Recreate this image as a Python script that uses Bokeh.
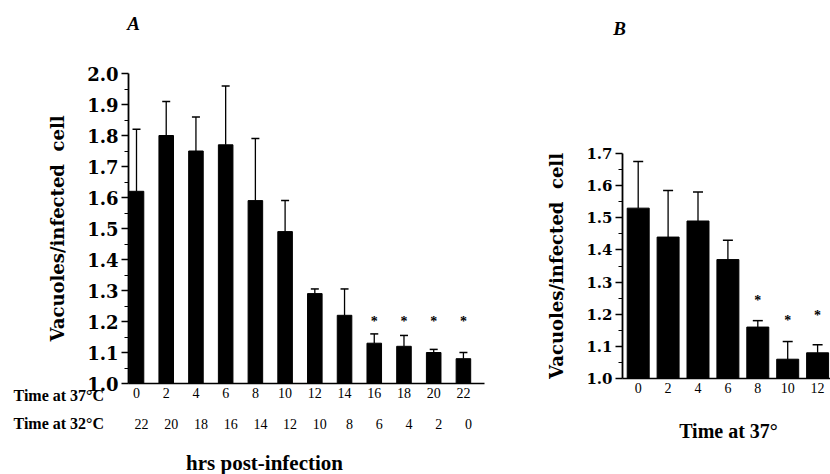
from bokeh.plotting import figure
from bokeh.models import (ColumnDataSource, Whisker, TeeHead, Range1d, FixedTicker,
                          NumeralTickFormatter, Label, LinearAxis)
from bokeh.core.properties import value
from bokeh.embed import file_html
from bokeh.resources import INLINE

# ---------------- data ----------------
# Panel A
hours_a = [0, 2, 4, 6, 8, 10, 12, 14, 16, 18, 20, 22]
time32_a = ["22", "20", "18", "16", "14", "12", "10", "8", "6", "4", "2", "0"]
vac_a = [1.62, 1.80, 1.75, 1.77, 1.59, 1.49, 1.29, 1.22, 1.13, 1.12, 1.10, 1.08]
err_top_a = [1.82, 1.91, 1.86, 1.96, 1.79, 1.59, 1.305, 1.305, 1.16, 1.155, 1.11, 1.10]
star_hours_a = [16, 18, 20, 22]
star_y_a = [1.20, 1.20, 1.20, 1.20]

# Panel B
hours_b = [0, 2, 4, 6, 8, 10, 12]
vac_b = [1.53, 1.44, 1.49, 1.37, 1.16, 1.06, 1.08]
err_top_b = [1.675, 1.585, 1.58, 1.43, 1.18, 1.115, 1.105]
star_hours_b = [8, 10, 12]
star_y_b = [1.243, 1.18, 1.196]

ticks_a = [round(1.0 + 0.1 * i, 2) for i in range(11)]
ticks_b = [round(1.0 + 0.1 * i, 2) for i in range(8)]

SERIF_WIDE = "DejaVu Serif"
TIMES = "Liberation Serif"
W, H = 830, 474

# ---------------- layout geometry (pixels) ----------------
A_AXIS_X, A_X0PX, A_PXU = 128, 136, 14.86
A_Y1PX, A_Y2PX = 383, 73
A_XEND = 484
B_AXIS_X, B_X0PX, B_PXU = 622, 637.7, 14.95
B_Y1PX, B_Y17PX = 378, 153

A_PYU = (A_Y1PX - A_Y2PX) / 1.0
B_PYU = (B_Y1PX - B_Y17PX) / 0.7

def ax(px):
    return (px - A_X0PX) / A_PXU

def ay(py):
    return 1.0 + (A_Y1PX - py) / A_PYU

def bx(px):
    return (px - B_X0PX) / B_PXU

def by(py):
    return 1.0 + (B_Y1PX - py) / B_PYU

p = figure(width=W, height=H, output_backend="svg", toolbar_location=None,
           x_range=Range1d(ax(0), ax(W)), y_range=Range1d(ay(H), ay(0)),
           x_axis_type=None, y_axis_type=None,
           min_border=0, min_border_left=0, min_border_right=0,
           min_border_top=0, min_border_bottom=0)
p.title.visible = False
p.outline_line_color = None
p.background_fill_color = "white"
p.border_fill_color = "white"
p.extra_x_ranges = {"bx": Range1d(bx(0), bx(W))}
p.extra_y_ranges = {"by": Range1d(by(H), by(0))}

# ---------------- axes ----------------
def y_axis(loc, yticks, bounds, tick_size, rx="default", ry="default"):
    a = LinearAxis(fixed_location=loc, bounds=bounds,
                   x_range_name=rx, y_range_name=ry)
    a.ticker = FixedTicker(ticks=yticks,
                           minor_ticks=[round(t + 0.05, 3) for t in yticks[:-1]])
    a.formatter = NumeralTickFormatter(format="0.0")
    a.axis_line_width = 1.8
    a.major_tick_line_width = 1.5
    a.minor_tick_line_width = 1.2
    a.major_tick_out = 7
    a.major_tick_in = 0
    a.minor_tick_out = 4
    a.minor_tick_in = 0
    a.major_label_text_font = SERIF_WIDE
    a.major_label_text_font_style = "bold"
    a.major_label_text_font_size = tick_size
    a.major_label_text_color = "black"
    a.major_label_standoff = 3
    a.axis_label = "Vacuoles/infected\u00a0\u00a0cell"
    a.axis_label_text_font = SERIF_WIDE
    a.axis_label_text_font_style = "bold"
    a.axis_label_text_font_size = "18px"
    a.axis_label_text_color = "black"
    a.axis_label_standoff = 16
    p.add_layout(a, "left")

def x_axis(loc, xticks, bounds, standoff, rx="default", ry="default"):
    a = LinearAxis(fixed_location=loc, bounds=bounds,
                   x_range_name=rx, y_range_name=ry)
    a.ticker = FixedTicker(ticks=xticks, minor_ticks=[])
    a.axis_line_width = 1.5
    a.major_tick_out = 0
    a.major_tick_in = 0
    a.minor_tick_out = 0
    a.minor_tick_in = 0
    a.major_label_text_font = TIMES
    a.major_label_text_font_size = "14px"
    a.major_label_text_color = "black"
    a.major_label_standoff = standoff
    p.add_layout(a, "below")

x_axis(1.0, hours_a, (ax(A_AXIS_X), ax(A_XEND)), 4)
y_axis(ax(A_AXIS_X), ticks_a, (1.0, 2.0), "18px")
x_axis(1.0, hours_b, (bx(B_AXIS_X), bx(W + 20)), 4, "bx", "by")
y_axis(bx(B_AXIS_X), ticks_b, (1.0, 1.7), "15px", "bx", "by")

# ---------------- bars, error bars, stars ----------------
srcA = ColumnDataSource(dict(x=hours_a, top=vac_a, upper=err_top_a))
p.vbar(x="x", top="top", bottom=1.0, width=0.98, source=srcA,
       fill_color="black", line_color="black")
p.add_layout(Whisker(base="x", lower="top", upper="upper", source=srcA,
                     upper_head=TeeHead(size=8, line_width=1.5, line_color="black"),
                     lower_head=None, line_width=1.3, line_color="black"))
p.text(star_hours_a, star_y_a, text=["*"] * len(star_hours_a),
       text_font=value(TIMES), text_font_size="14px", text_font_style="bold",
       text_align="center", text_baseline="middle", text_color="black")

srcB = ColumnDataSource(dict(x=hours_b, top=vac_b, upper=err_top_b))
p.vbar(x="x", top="top", bottom=1.0, width=1.47, source=srcB,
       fill_color="black", line_color="black", x_range_name="bx", y_range_name="by")
p.add_layout(Whisker(base="x", lower="top", upper="upper", source=srcB,
                     upper_head=TeeHead(size=10, line_width=1.5, line_color="black"),
                     lower_head=None, line_width=1.3, line_color="black",
                     x_range_name="bx", y_range_name="by"))
p.text(star_hours_b, star_y_b, text=["*"] * len(star_hours_b),
       text_font=value(TIMES), text_font_size="14px", text_font_style="bold",
       text_align="center", text_baseline="middle", text_color="black",
       x_range_name="bx", y_range_name="by")

# ---------------- texts ----------------
def add_label(x, y, text, size, style="bold", align="left", x_offset=0,
              rx="default", ry="default"):
    p.add_layout(Label(x=x, y=y, text=text, text_font=TIMES, text_font_style=style,
                       text_font_size=size, text_align=align, text_baseline="middle",
                       text_color="black", x_offset=x_offset,
                       x_range_name=rx, y_range_name=ry))

add_label(ax(133), ay(23), "A", "19px", style="bold italic", align="center")
add_label(ax(13), ay(395), "Time at 37\u00b0C", "16px")
add_label(ax(13), ay(423), "Time at 32\u00b0C", "16px")
for h, t in zip(hours_a, time32_a):
    add_label(h, ay(423), t, "14px", style="normal", align="center", x_offset=5)
add_label(ax(264), ay(462), "hrs post-infection", "21px", align="center")

add_label(bx(619), by(28), "B", "19px", style="bold italic", align="center",
          rx="bx", ry="by")
add_label(bx(728), by(430), "Time at 37\u00b0", "20px", align="center",
          rx="bx", ry="by")

open("out.html", "w").write(file_html(p, INLINE))
